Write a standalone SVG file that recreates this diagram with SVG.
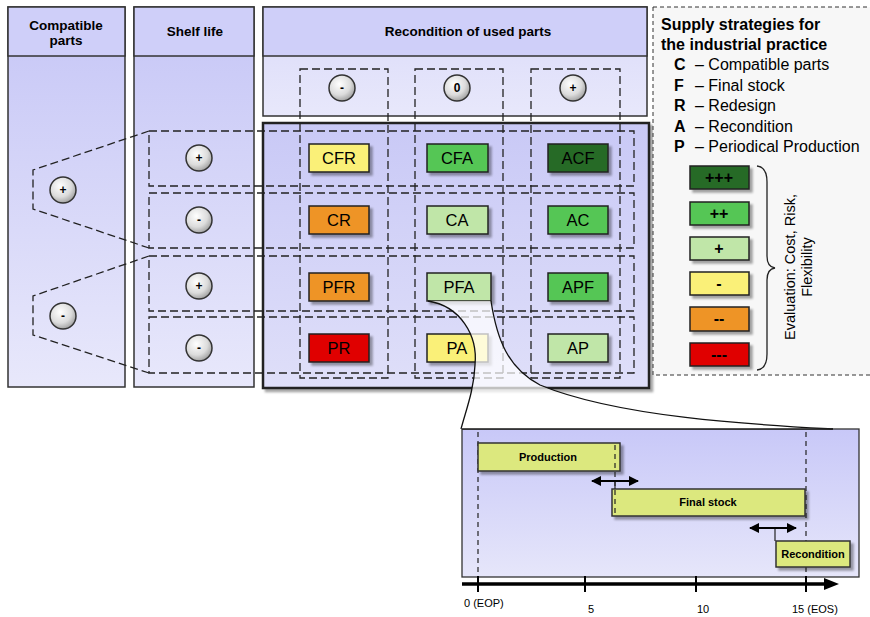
<svg xmlns="http://www.w3.org/2000/svg" width="870" height="617" viewBox="0 0 870 617">
<defs>
  <linearGradient id="gBody" x1="0" y1="0" x2="0" y2="1">
    <stop offset="0" stop-color="#c6c6f6"/>
    <stop offset="1" stop-color="#e8e8fb"/>
  </linearGradient>
  <linearGradient id="gSub" x1="0" y1="0" x2="0" y2="1">
    <stop offset="0" stop-color="#dadaf9"/>
    <stop offset="1" stop-color="#e8e8fb"/>
  </linearGradient>
  <linearGradient id="gMatrix" x1="0" y1="0" x2="0" y2="1">
    <stop offset="0" stop-color="#c9c9f6"/>
    <stop offset="1" stop-color="#dfdff9"/>
  </linearGradient>
  <linearGradient id="gZoom" x1="0" y1="0" x2="0" y2="1">
    <stop offset="0" stop-color="#c8c8f8"/>
    <stop offset="1" stop-color="#e6e6fa"/>
  </linearGradient>
  <radialGradient id="gBtn" cx="0.4" cy="0.35" r="0.7">
    <stop offset="0" stop-color="#ffffff"/>
    <stop offset="0.6" stop-color="#dcdcdc"/>
    <stop offset="1" stop-color="#9a9a9a"/>
  </radialGradient>
  <filter id="sh" x="-20%" y="-20%" width="150%" height="160%">
    <feDropShadow dx="3" dy="3" stdDeviation="1" flood-color="#000" flood-opacity="0.35"/>
  </filter>
  <marker id="ah" viewBox="0 0 10 10" refX="9" refY="5" markerWidth="5" markerHeight="5" orient="auto-start-reverse">
    <path d="M0,0 L10,5 L0,10 Z" fill="#000"/>
  </marker>
  <style>
    .panel{stroke:#333;stroke-width:1.5}
    .hdr{font-family:"Liberation Sans",Arial,sans-serif;font-weight:bold;font-size:13.5px;fill:#000;text-anchor:middle}
    .btn{fill:url(#gBtn);stroke:#333;stroke-width:1.5}
    .btxt{font-family:"Liberation Sans",Arial,sans-serif;font-weight:bold;font-size:12px;fill:#000;text-anchor:middle}
    .dash{fill:none;stroke:#222;stroke-width:1.3;stroke-dasharray:8 4}
    .box{stroke:#222;stroke-width:1.5;filter:url(#sh)}
    .btx{font-family:"Liberation Sans",Arial,sans-serif;font-size:16.5px;fill:#000;text-anchor:middle}
    .ltx{font-family:"Liberation Sans",Arial,sans-serif;font-weight:bold;font-size:16px;fill:#000;text-anchor:middle}
    .y{fill:#faf078}.o{fill:#ee9428}.r{fill:#e00000}.lg{fill:#c0e6a8}.g{fill:#55c655}.dg{fill:#256b25}
    .bar{fill:#dce87e;stroke:#333;stroke-width:1.5;filter:url(#sh)}
    .bartx{font-family:"Liberation Sans",Arial,sans-serif;font-weight:bold;font-size:11px;fill:#000;text-anchor:middle}
    .ax{font-family:"Liberation Sans",Arial,sans-serif;font-size:11px;fill:#000}
    .leg{font-family:"Liberation Sans",Arial,sans-serif;font-size:16px;fill:#000}
  </style>
</defs>

<!-- Panels -->
<g id="panel-compatible">
  <rect class="panel" x="8" y="7" width="117" height="380" fill="url(#gBody)"/>
  <rect class="panel" x="8" y="7" width="117" height="49" fill="#cfcff9"/>
  <text class="hdr" x="66" y="30">Compatible</text>
  <text class="hdr" x="66" y="45">parts</text>
</g>
<g id="panel-shelf">
  <rect class="panel" x="134" y="7" width="120" height="380" fill="url(#gBody)"/>
  <rect class="panel" x="134" y="7" width="120" height="49" fill="#cfcff9"/>
  <text class="hdr" x="195" y="36">Shelf life</text>
</g>
<g id="panel-recondition">
  <rect class="panel" x="263" y="7" width="384" height="109" fill="url(#gSub)"/>
  <rect class="panel" x="263" y="7" width="384" height="49" fill="#cfcff9"/>
  <text class="hdr" x="468" y="36">Recondition of used parts</text>
</g>
<g id="panel-matrix">
  <rect x="263" y="123" width="386" height="265" fill="url(#gMatrix)" stroke="#222" stroke-width="2.5" filter="url(#sh)"/>
</g>

<!-- Legend -->
<g id="legend">
  <rect x="653" y="7" width="222" height="368" fill="#f7f7f7" stroke="#333" stroke-width="1" stroke-dasharray="4 3"/>
  <text class="leg" x="661" y="30" font-weight="bold" font-size="17">Supply strategies for</text>
  <text class="leg" x="661" y="50" font-weight="bold" font-size="17">the industrial practice</text>
  <text class="leg" x="674" y="70"><tspan font-weight="bold">C</tspan><tspan x="695">– Compatible parts</tspan></text>
  <text class="leg" x="674" y="91"><tspan font-weight="bold">F</tspan><tspan x="695">– Final stock</tspan></text>
  <text class="leg" x="674" y="111"><tspan font-weight="bold">R</tspan><tspan x="695">– Redesign</tspan></text>
  <text class="leg" x="674" y="132"><tspan font-weight="bold">A</tspan><tspan x="695">– Recondition</tspan></text>
  <text class="leg" x="674" y="152"><tspan font-weight="bold">P</tspan><tspan x="695">– Periodical Production</tspan></text>
  <g id="legend-ppp"><rect class="box dg" x="690" y="166" width="59" height="23"/><text class="ltx" x="719" y="183">+++</text></g>
  <g id="legend-pp"><rect class="box g" x="690" y="202" width="59" height="23"/><text class="ltx" x="719" y="219">++</text></g>
  <g id="legend-p"><rect class="box lg" x="690" y="237" width="59" height="23"/><text class="ltx" x="719" y="254">+</text></g>
  <g id="legend-m"><rect class="box y" x="690" y="272" width="59" height="23"/><text class="ltx" x="719" y="289">-</text></g>
  <g id="legend-mm"><rect class="box o" x="690" y="307" width="59" height="24"/><text class="ltx" x="719" y="324">--</text></g>
  <g id="legend-mmm"><rect class="box r" x="690" y="343" width="59" height="23"/><text class="ltx" x="719" y="360">---</text></g>
  <path d="M757 166 Q767 167 767 182 L767 256 Q767 267 775 268 Q767 269 767 280 L767 354 Q767 369 757 370" fill="none" stroke="#222" stroke-width="1.3"/>
  <g transform="translate(795,267) rotate(-90)">
    <text x="0" y="0" font-family="Liberation Sans, Arial, sans-serif" font-size="14.5" text-anchor="middle">Evaluation: Cost, Risk,</text>
    <text x="0" y="17" font-family="Liberation Sans, Arial, sans-serif" font-size="14.5" text-anchor="middle">Flexibility</text>
  </g>
</g>

<!-- Buttons -->
<g id="btn-compat-plus"><circle class="btn" cx="63" cy="190" r="13"/><text class="btxt" x="63" y="194">+</text></g>
<g id="btn-compat-minus"><circle class="btn" cx="63" cy="316" r="13"/><text class="btxt" x="63" y="320">-</text></g>
<g id="btn-shelf-1"><circle class="btn" cx="199" cy="158" r="13"/><text class="btxt" x="199" y="162">+</text></g>
<g id="btn-shelf-2"><circle class="btn" cx="199" cy="220" r="13"/><text class="btxt" x="199" y="224">-</text></g>
<g id="btn-shelf-3"><circle class="btn" cx="199" cy="286" r="13"/><text class="btxt" x="199" y="290">+</text></g>
<g id="btn-shelf-4"><circle class="btn" cx="199" cy="348" r="13"/><text class="btxt" x="199" y="352">-</text></g>
<g id="btn-rec-minus"><circle class="btn" cx="342" cy="88" r="13"/><text class="btxt" x="342" y="92">-</text></g>
<g id="btn-rec-zero"><circle class="btn" cx="457" cy="88" r="13"/><text class="btxt" x="457" y="92" font-size="10">0</text></g>
<g id="btn-rec-plus"><circle class="btn" cx="573" cy="88" r="13"/><text class="btxt" x="573" y="92">+</text></g>

<!-- Strategy nodes -->
<g id="node-CFR"><rect class="box y" x="309" y="144" width="60" height="28"/><text class="btx" x="339" y="164">CFR</text></g>
<g id="node-CFA"><rect class="box g" x="427" y="144" width="61" height="28"/><text class="btx" x="457" y="164">CFA</text></g>
<g id="node-ACF"><rect class="box dg" x="548" y="144" width="60" height="28"/><text class="btx" x="578" y="164">ACF</text></g>
<g id="node-CR"><rect class="box o" x="309" y="206" width="60" height="28"/><text class="btx" x="339" y="226">CR</text></g>
<g id="node-CA"><rect class="box lg" x="427" y="206" width="61" height="28"/><text class="btx" x="457" y="226">CA</text></g>
<g id="node-AC"><rect class="box g" x="548" y="206" width="60" height="28"/><text class="btx" x="578" y="226">AC</text></g>
<g id="node-PFR"><rect class="box o" x="309" y="273" width="60" height="28"/><text class="btx" x="339" y="293">PFR</text></g>
<g id="node-PFA"><rect class="box lg" x="427" y="273" width="64" height="28"/><text class="btx" x="459" y="293">PFA</text></g>
<g id="node-APF"><rect class="box g" x="548" y="273" width="60" height="28"/><text class="btx" x="578" y="293">APF</text></g>
<g id="node-PR"><rect class="box r" x="309" y="334" width="60" height="28"/><text class="btx" x="339" y="354">PR</text></g>
<g id="node-PA"><rect class="box y" x="427" y="334" width="61" height="28"/><text class="btx" x="457" y="354">PA</text></g>
<g id="node-AP"><rect class="box lg" x="548" y="334" width="60" height="28"/><text class="btx" x="578" y="354">AP</text></g>

<!-- Dashed groupings -->
<g id="groupings">
  <rect class="dash" x="149" y="131" width="485" height="55"/>
  <rect class="dash" x="149" y="193" width="485" height="55"/>
  <rect class="dash" x="149" y="256" width="485" height="55"/>
  <rect class="dash" x="149" y="317" width="485" height="56"/>
  <rect class="dash" x="300" y="69" width="88" height="309"/>
  <rect class="dash" x="415" y="69" width="88" height="309"/>
  <rect class="dash" x="531" y="69" width="89" height="309"/>
  <path class="dash" d="M149 131 L33 170 L33 209 L149 248"/>
  <path class="dash" d="M149 256 L33 296 L33 335 L149 373"/>
</g>

<!-- Zoom panel -->
<g id="zoom-panel">
  <rect x="462" y="429" width="397" height="148" fill="url(#gZoom)" stroke="#333" stroke-width="1.3"/>
  <line x1="478" y1="432" x2="478" y2="584" stroke="#222" stroke-width="1.2" stroke-dasharray="5 4"/>
  <line x1="806" y1="432" x2="806" y2="584" stroke="#222" stroke-width="1.2" stroke-dasharray="5 4"/>
  <g id="bar-production"><rect class="bar" x="478" y="443" width="142" height="28"/><text class="bartx" x="548" y="461">Production</text></g>
  <g id="bar-finalstock"><rect class="bar" x="612" y="489" width="193" height="27"/><text class="bartx" x="708" y="506">Final stock</text></g>
  <g id="bar-recondition"><rect class="bar" x="776" y="541" width="74" height="26"/><text class="bartx" x="813" y="558">Recondition</text></g>
  <line x1="615" y1="445" x2="615" y2="516" stroke="#222" stroke-width="1.2" stroke-dasharray="5 4"/>
  <line x1="615" y1="481" x2="615" y2="489" stroke="#222" stroke-width="1.2"/>
  <line x1="775" y1="528" x2="775" y2="541" stroke="#222" stroke-width="1.2"/>
  <line x1="592" y1="481" x2="638" y2="481" stroke="#000" stroke-width="2" marker-start="url(#ah)" marker-end="url(#ah)"/>
  <line x1="750" y1="528" x2="796" y2="528" stroke="#000" stroke-width="2" marker-start="url(#ah)" marker-end="url(#ah)"/>
  <!-- axis -->
  <line x1="462" y1="584" x2="826" y2="584" stroke="#000" stroke-width="3.5"/>
  <path d="M824 578 L839 584 L824 590 Z" fill="#000"/>
  <line x1="478" y1="576" x2="478" y2="592" stroke="#000" stroke-width="2"/>
  <line x1="585" y1="576" x2="585" y2="592" stroke="#000" stroke-width="2"/>
  <line x1="696" y1="576" x2="696" y2="592" stroke="#000" stroke-width="2"/>
  <line x1="806" y1="576" x2="806" y2="592" stroke="#000" stroke-width="2"/>
  <text class="ax" x="464" y="607">0 (EOP)</text>
  <text class="ax" x="588" y="613">5</text>
  <text class="ax" x="697" y="613">10</text>
  <text class="ax" x="792" y="613">15 (EOS)</text>
</g>

<!-- Connectors: magnifier lens -->
<g id="connectors">
  <path d="M428 301 L491 301 C497 340 508 368 540 385 C620 418 760 425 833 429 L461 429 C466 410 474 390 475 365 C478 335 460 306 428 301 Z" fill="#ffffff" fill-opacity="0.72"/>
  <path d="M428 301 C460 306 478 335 475 365 C474 390 466 410 461 429" fill="none" stroke="#111" stroke-width="1.3"/>
  <path d="M491 301 C497 340 508 368 540 385 C620 418 760 425 833 429" fill="none" stroke="#111" stroke-width="1.3"/>
  <line x1="462" y1="429" x2="833" y2="429" stroke="#222" stroke-width="1.6"/>
</g>
</svg>
